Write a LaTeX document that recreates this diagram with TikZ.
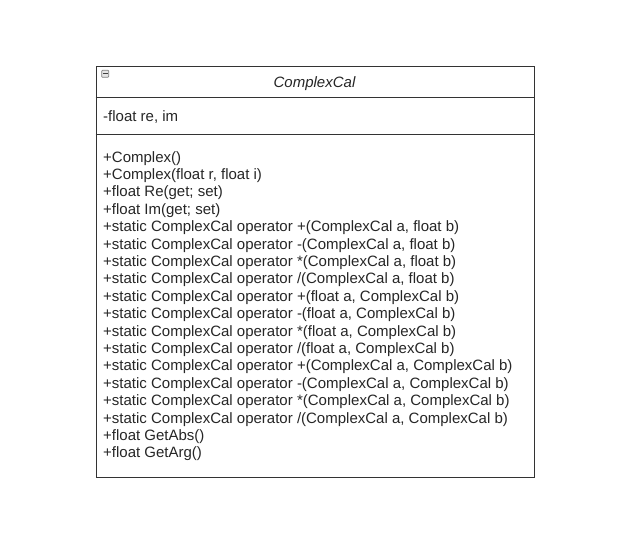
\documentclass[tikz,border=0pt]{standalone}
\usepackage{fontspec}
\setmainfont{Liberation Sans}
\begin{document}
\begin{tikzpicture}[x=1pt,y=-1pt,
  boxline/.style={draw=black!80, line width=1pt},
  member/.style={anchor=base west, inner sep=0pt, font=\fontsize{15}{17}\selectfont, text=black!85}]
\useasboundingbox (0,0) rectangle (632,550);
\node[boxline, minimum width=438pt, minimum height=411pt, anchor=north west, inner sep=0pt] (cls) at (95.5,65.5) {};
\coordinate (h1) at (95.5,97.5);
\coordinate (h2) at (533.5,97.5);
\coordinate (a1) at (95.5,134.5);
\coordinate (a2) at (533.5,134.5);
\draw[boxline] (h1) -- (h2);
\draw[boxline] (a1) -- (a2);
\node[draw=black!50, fill=black!10, line width=0.7pt, minimum size=7pt, inner sep=0pt, rounded corners=0.8pt] (icon) at (105.2,73.8) {};
\draw[black!75, line width=1.2pt] ([xshift=-2.3pt]icon.center) -- ([xshift=2.3pt]icon.center);
\node[font=\fontsize{15}{17}\selectfont\itshape, text=black!85, anchor=base] (title) at (314.5,87.5) {ComplexCal};
\node[member] (attr) at (103,121) {-float re, im};
\foreach \t [count=\i from 0] in {
  {+Complex()},
  {+Complex(float r, float i)},
  {+float Re(get; set)},
  {+float Im(get; set)},
  {+static ComplexCal operator +(ComplexCal a, float b)},
  {+static ComplexCal operator -(ComplexCal a, float b)},
  {+static ComplexCal operator *(ComplexCal a, float b)},
  {+static ComplexCal operator /(ComplexCal a, float b)},
  {+static ComplexCal operator +(float a, ComplexCal b)},
  {+static ComplexCal operator -(float a, ComplexCal b)},
  {+static ComplexCal operator *(float a, ComplexCal b)},
  {+static ComplexCal operator /(float a, ComplexCal b)},
  {+static ComplexCal operator +(ComplexCal a, ComplexCal b)},
  {+static ComplexCal operator -(ComplexCal a, ComplexCal b)},
  {+static ComplexCal operator *(ComplexCal a, ComplexCal b)},
  {+static ComplexCal operator /(ComplexCal a, ComplexCal b)},
  {+float GetAbs()},
  {+float GetArg()}}
  \node[member] (m\i) at (103,{162+\i*17.4}) {\t};
\end{tikzpicture}
\end{document}
